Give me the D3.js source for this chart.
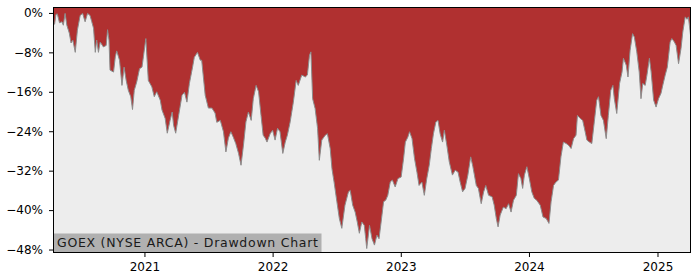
<!DOCTYPE html>
<html>
<head>
<meta charset="utf-8">
<script src="https://cdn.jsdelivr.net/npm/d3@7"></script>
<style>
  html, body { margin: 0; padding: 0; background: #ffffff; }
  svg { display: block; }
  text { font-family: "DejaVu Sans", sans-serif; }
</style>
</head>
<body>
<svg id="chart" width="700" height="280"></svg>
<script>
// ---- data ----
const title = "GOEX (NYSE ARCA) - Drawdown Chart";

const dates = [
  "2020-04-17","2020-04-20","2020-04-24","2020-04-28","2020-05-04","2020-05-11","2020-05-15","2020-05-20","2020-05-25","2020-06-01",
  "2020-06-06","2020-06-11","2020-06-18","2020-06-24","2020-07-02","2020-07-09","2020-07-16","2020-07-23","2020-07-30","2020-08-04",
  "2020-08-09","2020-08-14","2020-08-18","2020-08-23","2020-08-28","2020-09-06","2020-09-14","2020-09-18","2020-09-22","2020-09-25",
  "2020-10-05","2020-10-10","2020-10-14","2020-10-22","2020-10-29","2020-11-04","2020-11-10","2020-11-16","2020-11-23","2020-11-28",
  "2020-12-03","2020-12-10","2020-12-18","2020-12-25","2020-12-29",
  "2021-01-05","2021-01-12","2021-01-22","2021-01-29","2021-02-05","2021-02-15","2021-02-20","2021-03-01","2021-03-07","2021-03-15",
  "2021-03-21","2021-03-25","2021-03-31","2021-04-10","2021-04-18","2021-04-25","2021-05-02","2021-05-09","2021-05-18","2021-05-23",
  "2021-06-01","2021-06-09","2021-06-13","2021-06-23","2021-07-02","2021-07-12","2021-07-21","2021-07-26","2021-08-05","2021-08-14",
  "2021-08-21","2021-08-28","2021-09-04","2021-09-11","2021-09-18","2021-09-26","2021-10-03","2021-10-10","2021-10-17","2021-10-24",
  "2021-11-01","2021-11-07","2021-11-15","2021-11-22","2021-11-29","2021-12-05","2021-12-11","2021-12-16","2021-12-25",
  "2022-01-01","2022-01-08","2022-01-15","2022-01-22","2022-01-30","2022-02-06","2022-02-12","2022-02-20","2022-03-01","2022-03-09",
  "2022-03-15","2022-03-25","2022-04-04","2022-04-10","2022-04-16","2022-04-20","2022-04-25","2022-05-02","2022-05-09","2022-05-14",
  "2022-05-21","2022-05-31","2022-06-06","2022-06-14","2022-06-19","2022-06-25","2022-07-03","2022-07-10","2022-07-17","2022-07-26",
  "2022-08-05","2022-08-10","2022-08-17","2022-08-24","2022-08-30","2022-09-05","2022-09-12","2022-09-19","2022-09-23","2022-09-26",
  "2022-10-04","2022-10-11","2022-10-18","2022-10-25","2022-10-31","2022-11-06","2022-11-13","2022-11-19","2022-11-25","2022-12-02",
  "2022-12-08","2022-12-16","2022-12-24",
  "2023-01-02","2023-01-09","2023-01-14","2023-01-21","2023-01-26","2023-02-02","2023-02-09","2023-02-16","2023-02-22","2023-03-02",
  "2023-03-09","2023-03-16","2023-03-23","2023-03-29","2023-04-04","2023-04-11","2023-04-17","2023-04-23","2023-04-30","2023-05-05",
  "2023-05-12","2023-05-19","2023-05-28","2023-06-05","2023-06-13","2023-06-19","2023-06-26","2023-07-03","2023-07-11","2023-07-19",
  "2023-07-25","2023-08-04","2023-08-10","2023-08-18","2023-08-25","2023-08-31","2023-09-08","2023-09-18","2023-09-24","2023-09-30",
  "2023-10-05","2023-10-11","2023-10-20","2023-10-28","2023-11-04","2023-11-11","2023-11-18","2023-11-26","2023-12-02","2023-12-09",
  "2023-12-14","2023-12-19","2023-12-26",
  "2024-01-02","2024-01-09","2024-01-16","2024-01-23","2024-02-02","2024-02-10","2024-02-19","2024-02-27","2024-03-04","2024-03-11",
  "2024-03-18","2024-03-25","2024-04-01","2024-04-08","2024-04-16","2024-04-22","2024-04-30","2024-05-07","2024-05-14","2024-05-18",
  "2024-05-26","2024-06-02","2024-06-09","2024-06-14","2024-06-21","2024-06-28","2024-07-05","2024-07-12","2024-07-17","2024-07-24",
  "2024-07-31","2024-08-08","2024-08-14","2024-08-21","2024-08-27","2024-08-31","2024-09-07","2024-09-15","2024-09-22","2024-09-26",
  "2024-10-04","2024-10-09","2024-10-15","2024-10-22","2024-10-27","2024-11-03","2024-11-10","2024-11-15","2024-11-20","2024-11-27",
  "2024-12-02","2024-12-09","2024-12-14","2024-12-21","2024-12-28",
  "2025-01-04","2025-01-11","2025-01-16","2025-01-23","2025-01-29","2025-02-06","2025-02-11","2025-02-18","2025-02-23","2025-03-02",
  "2025-03-09","2025-03-14","2025-03-21","2025-03-26","2025-03-30","2025-04-05"
];

const drawdown = [
  -2.1,-2.3,-0.3,-0.2,-2.0,-1.8,-2.5,-0.1,-2.5,-4.1,
  -6.1,-5.5,-8.0,-3.5,-0.5,-0.1,-1.8,-0.1,-0.5,-1.8,
  -3.1,-8.0,-5.5,-8.0,-5.9,-6.9,-6.6,-3.4,-5.5,-11.6,
  -12.0,-8.9,-7.7,-9.6,-14.7,-11.0,-13.7,-15.7,-17.0,-19.6,
  -15.7,-14.0,-11.3,-11.0,-8.9,
  -5.2,-13.7,-15.0,-17.0,-16.0,-17.7,-19.7,-21.4,-24.4,-21.8,
  -20.1,-22.8,-24.4,-20.1,-16.7,-16.1,-18.1,-14.3,-11.0,-9.0,
  -8.0,-9.6,-9.6,-16.7,-19.3,-19.3,-20.3,-22.2,-21.8,-24.1,
  -28.2,-25.4,-24.1,-25.2,-26.5,-28.5,-30.9,-26.8,-22.1,-20.1,
  -21.8,-17.4,-14.7,-16.0,-20.8,-24.8,-25.4,-26.2,-24.5,
  -23.8,-25.8,-23.4,-24.1,-28.5,-26.2,-24.8,-22.1,-18.1,-13.7,
  -14.7,-12.6,-13.0,-12.6,-8.6,-7.9,-17.4,-19.4,-23.4,-29.9,
  -25.8,-24.8,-24.5,-27.5,-31.6,-34.3,-38.3,-41.7,-43.7,-39.0,
  -36.3,-36.0,-39.0,-40.4,-42.4,-44.7,-42.4,-43.1,-45.7,-47.8,
  -43.1,-45.8,-47.1,-45.1,-45.8,-42.4,-38.3,-38.0,-37.0,-34.3,
  -33.9,-35.3,-33.6,
  -33.3,-29.5,-26.2,-25.2,-24.1,-25.5,-29.5,-32.3,-35.0,-34.3,
  -37.0,-33.6,-30.9,-27.5,-24.5,-22.1,-21.8,-24.5,-26.2,-23.8,
  -26.8,-30.2,-32.9,-31.9,-32.3,-34.3,-36.3,-35.6,-32.9,-29.2,
  -31.1,-35.0,-35.6,-38.7,-36.3,-35.0,-37.0,-37.3,-39.0,-41.7,
  -43.4,-41.0,-39.4,-39.7,-38.7,-40.4,-38.0,-37.0,-32.6,-33.6,
  -35.6,-32.9,-31.2,
  -33.6,-36.3,-37.6,-38.0,-39.0,-41.4,-41.7,-42.7,-38.3,-35.0,
  -34.3,-33.9,-29.2,-26.2,-26.5,-26.8,-27.5,-25.5,-24.8,-20.8,
  -21.4,-21.8,-24.1,-25.8,-26.2,-26.5,-22.1,-17.7,-17.0,-20.8,
  -21.8,-25.5,-20.8,-15.7,-14.7,-17.4,-20.4,-14.3,-12.0,-9.2,
  -10.6,-13.0,-7.6,-4.2,-4.9,-7.9,-12.0,-17.4,-14.3,-14.7,
  -12.6,-9.2,-12.0,-17.7,-19.1,
  -17.4,-16.3,-14.7,-12.6,-11.0,-5.9,-5.2,-5.9,-6.6,-10.3,
  -7.2,-3.9,-0.8,-1.3,-0.8,-4.5
];

const yTickValues = [0, -8, -16, -24, -32, -40, -48];
const xTickYears = ["2021", "2022", "2023", "2024", "2025"];

// ---- layout ----
const W = 700, H = 280;
const plot = { left: 53.5, right: 690.5, top: 7.5, bottom: 252.5 };
const fillColor = "#b03030";
const bgColor = "#ededed";

const parse = d3.timeParse("%Y-%m-%d");
const data = dates.map((d, i) => ({ date: parse(d), v: drawdown[i] }));

const x = d3.scaleTime()
  .domain(d3.extent(data, d => d.date))
  .range([plot.left, plot.right]);

const y = d3.scaleLinear()
  .domain([-48.6, 1.1])
  .range([plot.bottom, plot.top]);

const svg = d3.select("#chart");

// plot background
svg.append("rect")
  .attr("x", plot.left).attr("y", plot.top)
  .attr("width", plot.right - plot.left)
  .attr("height", plot.bottom - plot.top)
  .attr("fill", bgColor);

svg.append("clipPath").attr("id", "clip")
  .append("rect")
  .attr("x", plot.left).attr("y", plot.top)
  .attr("width", plot.right - plot.left)
  .attr("height", plot.bottom - plot.top);

const g = svg.append("g").attr("clip-path", "url(#clip)");

// drawdown area (filled from curve up to the top of the axes)
const area = d3.area()
  .x(d => x(d.date))
  .y0(() => y(y.domain()[1]))
  .y1(d => y(d.v));

g.append("path")
  .datum(data)
  .attr("d", area)
  .attr("fill", fillColor);

const line = d3.line()
  .x(d => x(d.date))
  .y(d => y(d.v));

g.append("path")
  .datum(data)
  .attr("d", line)
  .attr("fill", "none")
  .attr("stroke", "#8c8c8c")
  .attr("stroke-width", 1);

// axes
const fmt = d => (d < 0 ? "\u2212" : "") + Math.abs(d) + "%";

const yAxis = d3.axisLeft(y)
  .tickValues(yTickValues)
  .tickFormat(fmt)
  .tickSize(4.5)
  .tickPadding(6);

const yg = svg.append("g")
  .attr("transform", `translate(${plot.left},0)`)
  .call(yAxis);

const xTicks = xTickYears.map(s => d3.timeParse("%Y")(s));
const xAxis = d3.axisBottom(x)
  .tickValues(xTicks)
  .tickFormat(d3.timeFormat("%Y"))
  .tickSize(4.5)
  .tickPadding(5);

const xg = svg.append("g")
  .attr("transform", `translate(0,${plot.bottom})`)
  .call(xAxis);

[yg, xg].forEach(a => {
  a.select(".domain").remove();
  a.selectAll(".tick line").attr("stroke", "#000").attr("stroke-width", 1);
  a.selectAll(".tick text")
    .attr("fill", "#000")
    .style("font-size", "12px")
    .style("font-family", "'DejaVu Sans', sans-serif");
});

// frame
svg.append("rect")
  .attr("x", plot.left).attr("y", plot.top)
  .attr("width", plot.right - plot.left)
  .attr("height", plot.bottom - plot.top)
  .attr("fill", "none")
  .attr("stroke", "#000")
  .attr("stroke-width", 1);

// title label box
const label = svg.append("g");
label.append("rect")
  .attr("fill", "#b0b0b0")
  .attr("x", plot.left + 0.5)
  .attr("y", 233.5)
  .attr("width", 321.5 - plot.left - 0.5)
  .attr("height", plot.bottom - 233.5 - 0.5);
label.append("text")
  .attr("x", plot.left + 3.5)
  .attr("y", 246.5)
  .attr("fill", "#1a1a1a")
  .attr("textLength", 261)
  .attr("lengthAdjust", "spacing")
  .style("font-size", "12.5px")
  .text(title);
</script>
</body>
</html>
